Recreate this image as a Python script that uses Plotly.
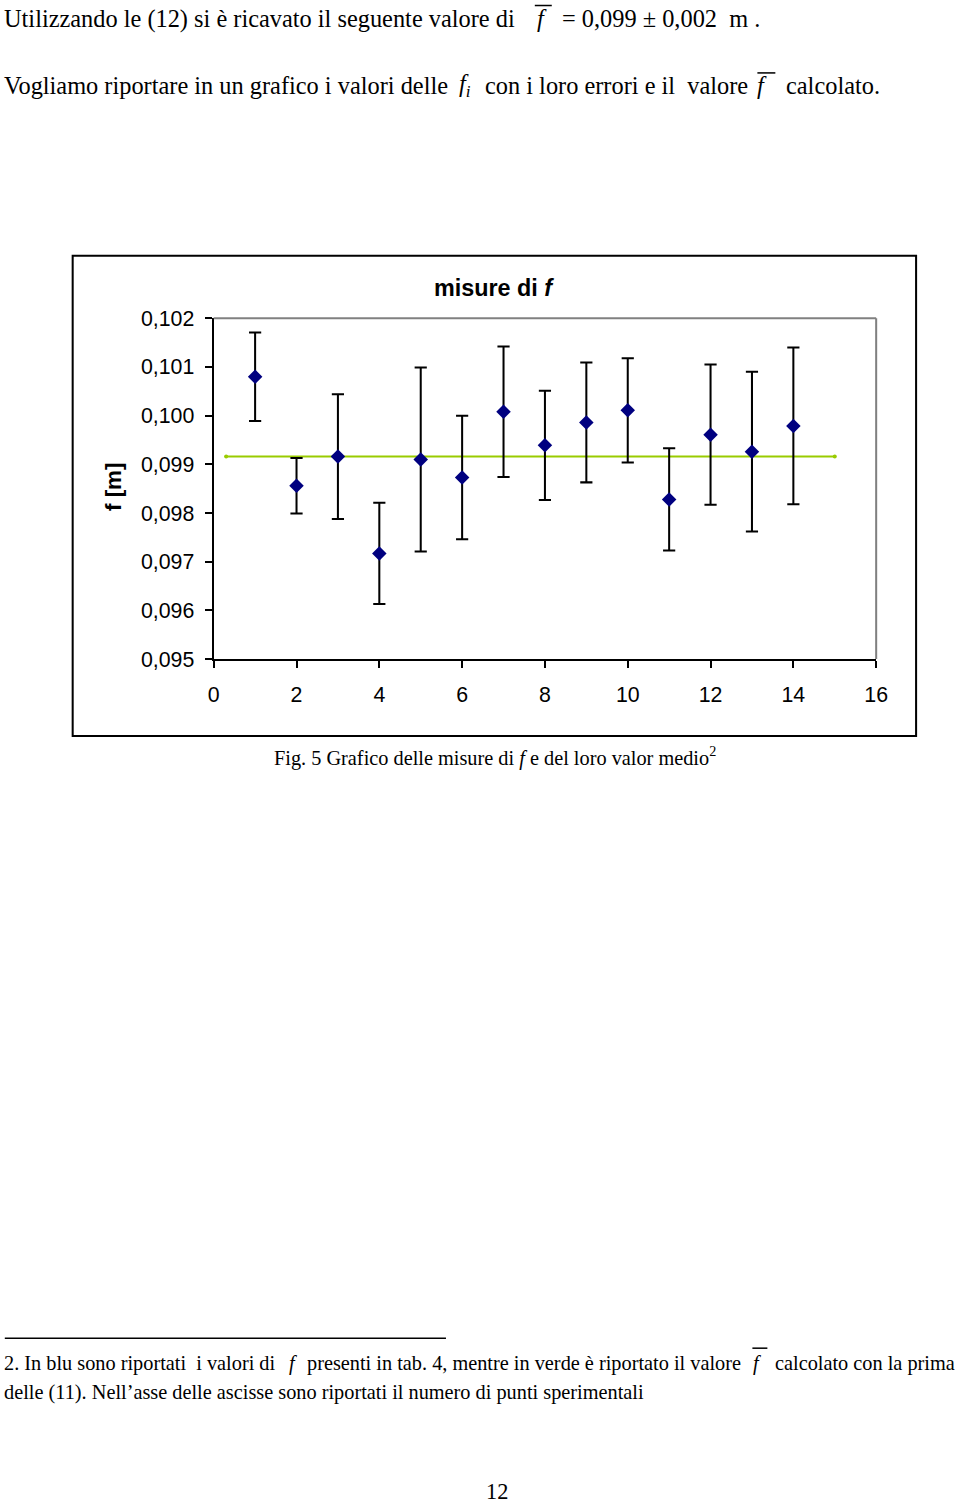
import plotly.graph_objects as go

# ---------------- data ----------------
n_punto = [1, 2, 3, 4, 5, 6, 7, 8, 9, 10, 11, 12, 13, 14]
f_valori = [0.10080, 0.09856, 0.09916, 0.09717, 0.09910, 0.09873, 0.10008,
            0.09939, 0.09986, 0.10011, 0.09828, 0.09961, 0.09926, 0.09979]
f_errori = [0.00091, 0.00057, 0.00128, 0.00104, 0.00189, 0.00127, 0.00134,
            0.00112, 0.00123, 0.00107, 0.00105, 0.00144, 0.00164, 0.00161]
media_x = [0.3, 15]
media_f = [0.099163, 0.099163]
y_ticks = [0.095, 0.096, 0.097, 0.098, 0.099, 0.100, 0.101, 0.102]
x_ticks = [0, 2, 4, 6, 8, 10, 12, 14, 16]

# The page photo shows the figure slightly reduced and shifted; compensate.
W, H = 976, 1515
AX, AY = 0.9834, 0.9855
BX, BY = 5.2, 11.0
K = 1 / ((AX + AY) / 2)   # size compensation


def px(x):
    return (x - BX) / AX / W


def py(y):
    return 1 - (y - BY) / AY / H


def s(v):
    return v * K


fig = go.Figure()

fig.add_trace(go.Scatter(
    x=media_x, y=media_f, mode="lines+markers",
    line=dict(color="#99CC00", width=s(2)),
    marker=dict(color="#99CC00", size=s(4)),
    showlegend=False, hoverinfo="skip",
))

fig.add_trace(go.Scatter(
    x=n_punto, y=f_valori, mode="markers",
    marker=dict(symbol="diamond", color="#000080", size=s(11)),
    error_y=dict(type="data", array=f_errori, symmetric=True,
                 color="black", thickness=s(2), width=s(6)),
    showlegend=False,
))

axis_font = dict(family="Liberation Sans, Arial", size=s(21), color="black")

fig.update_layout(
    width=W, height=H,
    margin=dict(l=0, r=0, t=0, b=0),
    paper_bgcolor="white", plot_bgcolor="white",
    separators=",.",
    xaxis=dict(
        domain=[px(213.3), px(877)], range=[0, 16],
        tickvals=x_ticks, ticks="outside", ticklen=s(7), tickwidth=s(2),
        tickcolor="black", showline=True, linecolor="black", linewidth=s(2),
        showgrid=False, zeroline=False, tickfont=axis_font,
        ticklabelstandoff=8,
    ),
    yaxis=dict(
        domain=[py(659), py(317.7)], range=[0.095, 0.102],
        tickvals=y_ticks, tickformat=".3f", ticks="outside", ticklen=s(7),
        tickwidth=s(2), tickcolor="black", showline=True, linecolor="black",
        linewidth=s(2), showgrid=False, zeroline=False, tickfont=axis_font,
        ticklabelstandoff=6,
    ),
)

shapes = []
# plot area border (grey top and right)
shapes.append(dict(type="line", xref="x domain", yref="y domain",
                   x0=0, x1=1, y0=1, y1=1, line=dict(color="#808080", width=s(2))))
shapes.append(dict(type="line", xref="x domain", yref="y domain",
                   x0=1, x1=1, y0=0, y1=1, line=dict(color="#808080", width=s(2))))
# chart outer border
shapes.append(dict(type="rect", xref="paper", yref="paper",
                   x0=px(72), x1=px(917), y0=py(736), y1=py(255),
                   line=dict(color="black", width=s(2))))
# overlines over f (f-bar)
for (xa, xb, yy) in [(535, 552, 4.5), (758, 776, 72), (753, 768, 1349)]:
    shapes.append(dict(type="line", xref="paper", yref="paper",
                       x0=px(xa), x1=px(xb), y0=py(yy), y1=py(yy),
                       line=dict(color="black", width=s(1.5))))
# footnote separator
shapes.append(dict(type="line", xref="paper", yref="paper",
                   x0=px(4), x1=px(446), y0=py(1339), y1=py(1339),
                   line=dict(color="black", width=s(1.5))))
fig.update_layout(shapes=shapes)

serif = "Liberation Serif, Times New Roman"
ann = []


def txt(x, y, t, size, xanchor="left", family=serif, **kw):
    ann.append(dict(x=px(x), y=py(y), xref="paper", yref="paper", text=t,
                    showarrow=False, xanchor=xanchor, yanchor="middle",
                    font=dict(family=family, size=s(size), color="black"), **kw))


# top text
txt(1, 18, "Utilizzando le (12) si è ricavato il seguente valore di", 24)
txt(535, 18, "<i>f</i>", 24)
txt(560, 18, "= 0,099 ± 0,002  m .", 24)
txt(1, 85, "Vogliamo riportare in un grafico i valori delle", 24)
txt(457, 85, "<i>f<sub>i</sub></i>", 24)
txt(483, 85, "con i loro errori e il  valore", 24)
txt(756, 85, "<i>f</i>", 24)
txt(785, 85, "calcolato.", 24)

# chart title and axis title
txt(494, 287, "<b>misure di <i>f</i></b>", 23, xanchor="center",
    family="Liberation Sans, Arial")
txt(113, 487, "<b>f [m]</b>", 22, xanchor="center",
    family="Liberation Sans, Arial", textangle=-90)

# caption
txt(495, 757, "Fig. 5 Grafico delle misure di <i>f</i> e del loro valor medio<sup>2</sup>",
    20, xanchor="center")

# footnote
txt(1, 1364, "2. In blu sono riportati  i valori di", 20)
txt(287, 1364, "<i>f</i>", 20)
txt(305, 1364, "presenti in tab. 4, mentre in verde è riportato il valore", 20)
txt(752, 1364, "<i>f</i>", 20)
txt(774, 1364, "calcolato con la prima", 20)
txt(1, 1393, "delle (11). Nell’asse delle ascisse sono riportati il numero di punti sperimentali", 20)

# page number
txt(497, 1493, "12", 22, xanchor="center")

fig.update_layout(annotations=ann)

fig.write_html("out.html")
